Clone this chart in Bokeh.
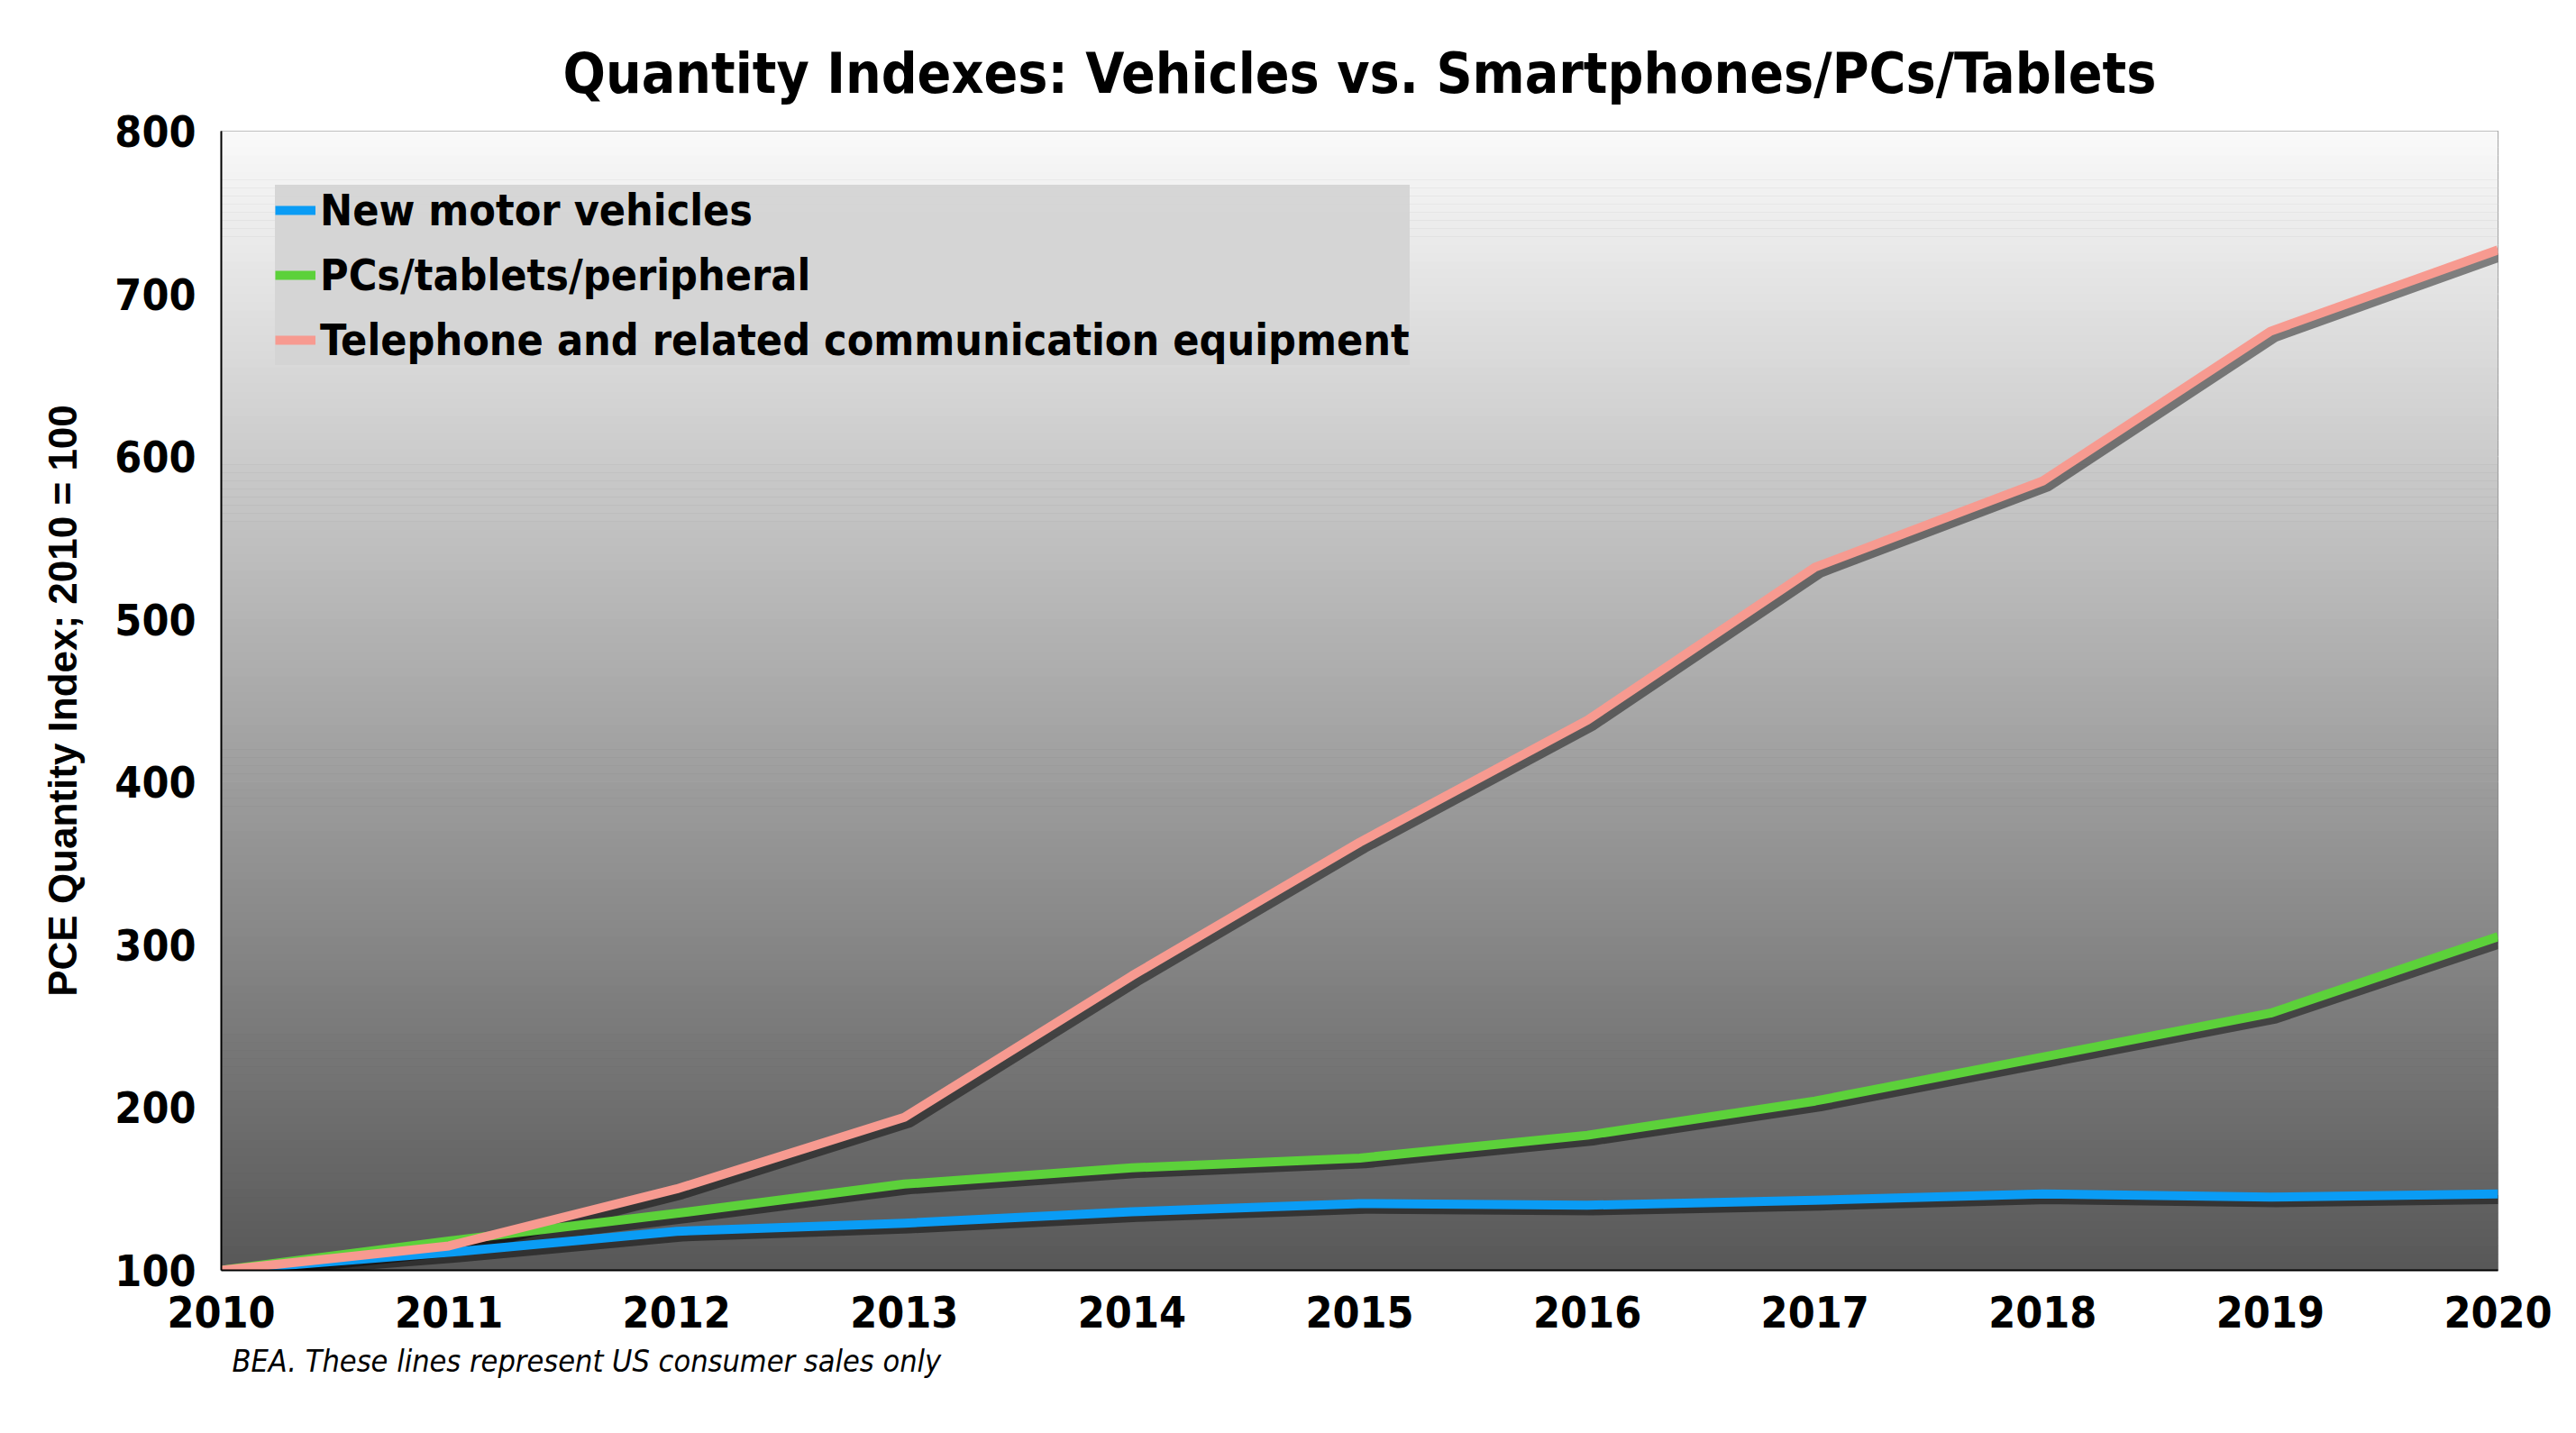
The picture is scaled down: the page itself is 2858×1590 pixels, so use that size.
import numpy as np
from bokeh.plotting import figure
from bokeh.models import Title, Legend, LegendItem, FixedTicker
from bokeh.embed import file_html
from bokeh.resources import INLINE

years = list(range(2010, 2021))
vehicles = [100, 111, 124, 129, 136, 141, 140, 143, 147, 145, 147]
pcs = [100, 118, 135, 153, 163, 169, 183, 204, 231, 258, 305]
phones = [100, 115, 150, 194, 281, 363, 438, 532, 585, 677, 727]
series_names = ["New motor vehicles", "PCs/tablets/peripheral", "Telephone and related communication equipment"]
colors = ["#0a9cf5", "#5cd13a", "#f79a90"]

NARROW = "'DejaVu Sans Condensed', 'Liberation Sans Narrow', 'Roboto Condensed', 'Liberation Sans', sans-serif"
p = figure(width=2840, height=1574, x_range=(2010, 2020), y_range=(100, 800),
           output_backend="svg", toolbar_location=None,
           min_border_left=245, min_border_right=69, min_border_top=145, min_border_bottom=165)
p.background_fill_color = "#5a5a5a"
p.border_fill_color = "white"
p.outline_line_color = "#888888"

n = 140
edges = np.linspace(100, 800, n + 1)
cols = []
for i in range(n):
    t = (i + 0.5) / n
    g = int(88 + (250 - 88) * t)
    cols.append("#%02x%02x%02x" % (g, g, g))
p.quad(left=2010, right=2020, bottom=edges[:-1], top=edges[1:] + 0.3, fill_color=cols, line_color=None)

p.title.text = "Quantity Indexes: Vehicles vs. Smartphones/PCs/Tablets"
p.title.align = "center"
p.title.text_font = NARROW
p.title.text_font_size = "62px"
p.title.text_font_style = "bold"
p.title.text_color = "black"
p.title.standoff = 55

p.xgrid.grid_line_color = None
p.ygrid.grid_line_color = "#d8d8d8"
p.ygrid.grid_line_width = 1.5
p.yaxis.ticker = FixedTicker(ticks=list(range(100, 801, 100)))
p.xaxis.ticker = FixedTicker(ticks=years)
for ax in (p.xaxis[0], p.yaxis[0]):
    ax.major_label_text_font = NARROW
    ax.major_label_text_font_style = "bold"
    ax.major_label_text_font_size = "48px"
    ax.major_label_text_color = "black"
    ax.major_tick_line_color = None
    ax.minor_tick_line_color = None
    ax.axis_line_color = "black"
    ax.axis_line_width = 2
p.yaxis.major_label_standoff = 22
p.xaxis.major_label_standoff = 22
p.yaxis.axis_label = "PCE Quantity Index; 2010 = 100"
p.yaxis.axis_label_text_font = "Liberation Sans"
p.yaxis.axis_label_text_font_style = "bold"
p.yaxis.axis_label_text_font_size = "44px"
p.yaxis.axis_label_text_color = "black"
p.yaxis.axis_label_standoff = 30

items = []
for vals in [vehicles, pcs, phones]:
    sx = [x + 0.025 for x in years]
    sy = [v - 3.5 for v in vals]
    p.line(sx, sy, line_color="black", line_width=10, line_alpha=0.45, line_join="round")
for vals, c, name in zip([vehicles, pcs, phones], colors, series_names):
    r = p.line(years, vals, line_color=c, line_width=10, line_join="round")
    items.append(LegendItem(label=name, renderers=[r]))

leg = Legend(items=items, location="top_left")
leg.label_text_font = NARROW
leg.label_text_font_style = "bold"
leg.label_text_font_size = "48px"
leg.label_text_color = "black"
leg.background_fill_color = "#d4d4d4"
leg.background_fill_alpha = 0.95
leg.border_line_color = None
leg.glyph_width = 45
leg.glyph_height = 52
leg.label_height = 52
leg.spacing = 16
leg.padding = 20
leg.margin = 60
p.add_layout(leg)

foot = Title(text="BEA. These lines represent US consumer sales only", align="left",
             text_font=NARROW, text_font_style="italic", text_font_size="34px",
             text_color="black")
foot.offset = 12
foot.standoff = 25
p.add_layout(foot, "below")

open("out.html", "w").write(file_html(p, INLINE))
